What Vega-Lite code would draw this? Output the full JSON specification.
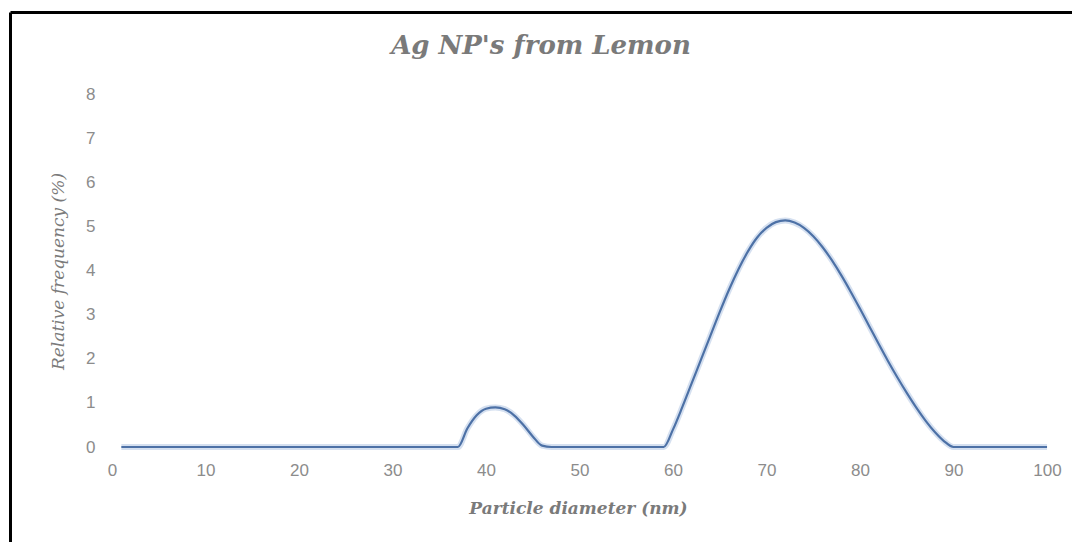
{
  "$schema": "https://vega.github.io/schema/vega-lite/v6.json",
  "width": 1062,
  "height": 530,
  "autosize": {"type": "none"},
  "padding": {"left": 10, "top": 12, "right": 0, "bottom": 0},
  "background": "white",
  "title": {
    "text": "Ag NP's from Lemon",
    "font": "DejaVu Serif",
    "fontStyle": "italic",
    "fontWeight": "bold",
    "fontSize": 26,
    "color": "#7a7a7a",
    "anchor": "middle",
    "frame": "group",
    "offset": 0,
    "baseline": "alphabetic",
    "dy": 68
  },
  "config": {"view": {"stroke": null}},
  "data": {
    "values": [
      {"d": 1, "f": 0}, {"d": 2, "f": 0}, {"d": 3, "f": 0}, {"d": 4, "f": 0}, {"d": 5, "f": 0},
      {"d": 6, "f": 0}, {"d": 7, "f": 0}, {"d": 8, "f": 0}, {"d": 9, "f": 0}, {"d": 10, "f": 0},
      {"d": 11, "f": 0}, {"d": 12, "f": 0}, {"d": 13, "f": 0}, {"d": 14, "f": 0}, {"d": 15, "f": 0},
      {"d": 16, "f": 0}, {"d": 17, "f": 0}, {"d": 18, "f": 0}, {"d": 19, "f": 0}, {"d": 20, "f": 0},
      {"d": 21, "f": 0}, {"d": 22, "f": 0}, {"d": 23, "f": 0}, {"d": 24, "f": 0}, {"d": 25, "f": 0},
      {"d": 26, "f": 0}, {"d": 27, "f": 0}, {"d": 28, "f": 0}, {"d": 29, "f": 0}, {"d": 30, "f": 0},
      {"d": 31, "f": 0}, {"d": 32, "f": 0}, {"d": 33, "f": 0}, {"d": 34, "f": 0}, {"d": 35, "f": 0},
      {"d": 36, "f": 0}, {"d": 37, "f": 0}, {"d": 38, "f": 0.42}, {"d": 39, "f": 0.72}, {"d": 40, "f": 0.87},
      {"d": 41, "f": 0.9}, {"d": 42, "f": 0.86}, {"d": 43, "f": 0.72}, {"d": 44, "f": 0.5}, {"d": 45, "f": 0.24},
      {"d": 46, "f": 0.03}, {"d": 47, "f": 0}, {"d": 48, "f": 0}, {"d": 49, "f": 0}, {"d": 50, "f": 0},
      {"d": 51, "f": 0}, {"d": 52, "f": 0}, {"d": 53, "f": 0}, {"d": 54, "f": 0}, {"d": 55, "f": 0},
      {"d": 56, "f": 0}, {"d": 57, "f": 0}, {"d": 58, "f": 0}, {"d": 59, "f": 0}, {"d": 60, "f": 0.4},
      {"d": 61, "f": 0.91}, {"d": 62, "f": 1.45}, {"d": 63, "f": 1.99}, {"d": 64, "f": 2.53}, {"d": 65, "f": 3.07},
      {"d": 66, "f": 3.58}, {"d": 67, "f": 4.04}, {"d": 68, "f": 4.44}, {"d": 69, "f": 4.76}, {"d": 70, "f": 4.98},
      {"d": 71, "f": 5.11}, {"d": 72, "f": 5.15}, {"d": 73, "f": 5.1}, {"d": 74, "f": 4.98}, {"d": 75, "f": 4.79},
      {"d": 76, "f": 4.54}, {"d": 77, "f": 4.24}, {"d": 78, "f": 3.9}, {"d": 79, "f": 3.53}, {"d": 80, "f": 3.14},
      {"d": 81, "f": 2.74}, {"d": 82, "f": 2.34}, {"d": 83, "f": 1.95}, {"d": 84, "f": 1.58}, {"d": 85, "f": 1.23},
      {"d": 86, "f": 0.9}, {"d": 87, "f": 0.6}, {"d": 88, "f": 0.34}, {"d": 89, "f": 0.13}, {"d": 90, "f": 0},
      {"d": 91, "f": 0}, {"d": 92, "f": 0}, {"d": 93, "f": 0}, {"d": 94, "f": 0}, {"d": 95, "f": 0},
      {"d": 96, "f": 0}, {"d": 97, "f": 0}, {"d": 98, "f": 0}, {"d": 99, "f": 0}, {"d": 100, "f": 0}
    ]
  },
  "layer": [
    {
      "mark": {"type": "line", "stroke": "#c3d3ea", "strokeWidth": 6, "opacity": 0.7, "interpolate": "monotone"},
      "encoding": {
        "x": {
          "field": "d", "type": "quantitative",
          "scale": {"domain": [-10.91, 102.67], "nice": false, "zero": false},
          "axis": {
            "values": [0, 10, 20, 30, 40, 50, 60, 70, 80, 90, 100],
            "orient": "bottom", "offset": -82, "domain": false, "ticks": false, "grid": false,
            "labelPadding": 2, "labelFont": "Liberation Sans", "labelFontSize": 17, "labelColor": "#8c8c8c",
            "labelFlush": false, "labelOverlap": false,
            "title": "Particle diameter (nm)", "titleFont": "DejaVu Serif", "titleFontStyle": "italic",
            "titleFontWeight": "bold", "titleFontSize": 17, "titleColor": "#7a7a7a",
            "titleX": 568, "titleY": 48, "titleBaseline": "middle", "titleAlign": "center"
          }
        },
        "y": {
          "field": "f", "type": "quantitative",
          "scale": {"domain": [-2.159, 9.886], "nice": false, "zero": false},
          "axis": {
            "values": [0, 1, 2, 3, 4, 5, 6, 7, 8],
            "orient": "left", "offset": -85, "domain": false, "ticks": false, "grid": false,
            "labelPadding": 0, "labelFont": "Liberation Sans", "labelFontSize": 17, "labelColor": "#8c8c8c",
            "labelFlush": false, "labelOverlap": false,
            "title": "Relative frequency (%)", "titleFont": "DejaVu Serif", "titleFontStyle": "italic",
            "titleFontWeight": "normal", "titleFontSize": 17, "titleColor": "#7a7a7a",
            "titleX": -37, "titleY": 259, "titleAngle": -90, "titleBaseline": "middle", "titleAlign": "center"
          }
        }
      }
    },
    {
      "mark": {"type": "line", "stroke": "#4d71a6", "strokeWidth": 2.2, "interpolate": "monotone"},
      "encoding": {
        "x": {"field": "d", "type": "quantitative", "axis": null},
        "y": {"field": "f", "type": "quantitative", "axis": null}
      }
    },
    {
      "mark": {"type": "line", "opacity": 0, "interpolate": "monotone"},
      "encoding": {
        "x": {
          "field": "d", "type": "quantitative",
          "axis": {"orient": "top", "offset": 0, "domain": true, "domainColor": "#000000", "domainWidth": 3,
                   "labels": false, "ticks": false, "grid": false, "title": null}
        },
        "y": {
          "field": "f", "type": "quantitative",
          "axis": {"orient": "left", "offset": 0, "domain": true, "domainColor": "#000000", "domainWidth": 3,
                   "labels": false, "ticks": false, "grid": false, "title": null}
        }
      }
    }
  ],
  "resolve": {"axis": {"x": "independent", "y": "independent"}}
}
